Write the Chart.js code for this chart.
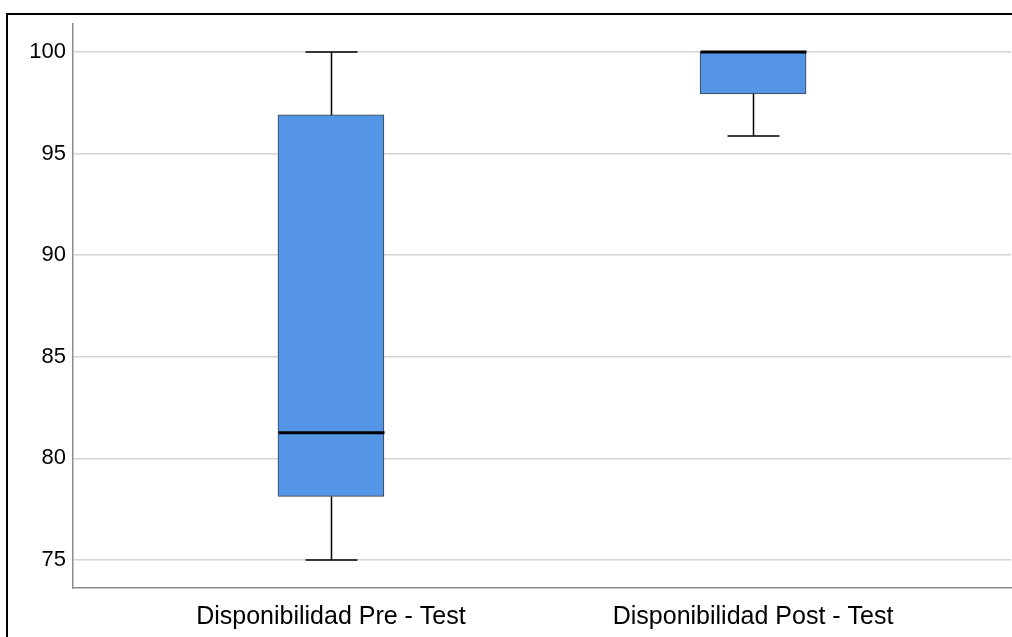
<!DOCTYPE html>
<html>
<head>
<meta charset="utf-8">
<script src="https://cdn.jsdelivr.net/npm/chart.js@4.4.1/dist/chart.umd.min.js"></script>
<style>
    body { margin: 0; background: #fff; }
    #wrap { position: relative; width: 1012px; height: 637px; overflow: hidden; }
    #frame { position: absolute; left: 6px; top: 13px; width: 1100px; height: 700px; border-left: 2px solid #000; border-top: 2px solid #000; }
    canvas { position: absolute; left: 0; top: 0; }
</style>
</head>
<body>
<div id="wrap">
    <div id="frame"></div>
    <canvas id="chart" width="1012" height="637"></canvas>
</div>
<script>
var categories = ['Disponibilidad Pre - Test', 'Disponibilidad Post - Test'];
var minValues = [75, 95.86];
var q1Values = [78.13, 97.94];
var medianValues = [81.26, 100];
var q3Values = [96.9, 100];
var maxValues = [100, 100];
var yTicks = [75, 80, 85, 90, 95, 100];

var boxPlotLines = {
    id: 'boxPlotLines',
    afterDatasetsDraw: function (chart) {
        var ctx = chart.ctx;
        var x = chart.scales.x;
        var y = chart.scales.y;
        ctx.save();
        ctx.strokeStyle = '#000';
        categories.forEach(function (c, i) {
            var cx = Math.round(x.getPixelForValue(i)) + 0.5;
            var yMin = y.getPixelForValue(minValues[i]);
            var yQ1 = y.getPixelForValue(q1Values[i]);
            var yQ3 = y.getPixelForValue(q3Values[i]);
            var yMax = y.getPixelForValue(maxValues[i]);
            var yMed = y.getPixelForValue(medianValues[i]);

            ctx.lineWidth = 1.5;
            ctx.beginPath();
            if (yMax < yQ3) {
                ctx.moveTo(cx, yMax); ctx.lineTo(cx, yQ3);
            }
            ctx.moveTo(cx, yQ1); ctx.lineTo(cx, yMin);
            ctx.stroke();

            ctx.beginPath();
            ctx.moveTo(cx - 26, yMax); ctx.lineTo(cx + 26, yMax);
            ctx.moveTo(cx - 26, yMin); ctx.lineTo(cx + 26, yMin);
            ctx.stroke();

            ctx.lineWidth = 3;
            ctx.beginPath();
            ctx.moveTo(cx - 53, yMed); ctx.lineTo(cx + 53, yMed);
            ctx.stroke();
        });
        ctx.restore();
    }
};

new Chart(document.getElementById('chart'), {
    type: 'bar',
    data: {
        datasets: [{
            data: categories.map(function (c, i) {
                return { x: i, y: [q1Values[i], q3Values[i]] };
            }),
            backgroundColor: '#5495e5',
            borderColor: '#3a3f47',
            borderWidth: 1,
            borderSkipped: false,
            barThickness: 106
        }]
    },
    options: {
        responsive: false,
        animation: false,
        layout: { padding: { top: 24, right: 1, left: 0, bottom: 0 } },
        plugins: { legend: { display: false }, tooltip: { enabled: false } },
        scales: {
            x: {
                type: 'linear',
                offset: false,
                min: -0.611,
                max: 1.611,
                afterBuildTicks: function (scale) {
                    scale.ticks = categories.map(function (c, i) { return { value: i }; });
                },
                afterFit: function (scale) { scale.height = 49; },
                ticks: {
                    callback: function (v) { return categories[v]; },
                    color: '#000',
                    font: { family: 'Liberation Sans, Arial', size: 25 },
                    padding: 6,
                    maxRotation: 0
                },
                grid: { display: false, offset: false },
                border: { display: true, color: '#8c8c8c', width: 1.5 }
            },
            y: {
                min: 73.625,
                max: 101.375,
                afterBuildTicks: function (scale) {
                    scale.ticks = yTicks.map(function (v) { return { value: v }; });
                },
                afterFit: function (scale) { scale.width = 73; },
                ticks: {
                    color: '#000',
                    font: { family: 'Liberation Sans, Arial', size: 22 },
                    padding: 7
                },
                grid: { color: '#d4d4d4', lineWidth: 1.5, drawTicks: false },
                border: { display: true, color: '#8c8c8c', width: 1.5 }
            }
        }
    },
    plugins: [boxPlotLines]
});
</script>
</body>
</html>
